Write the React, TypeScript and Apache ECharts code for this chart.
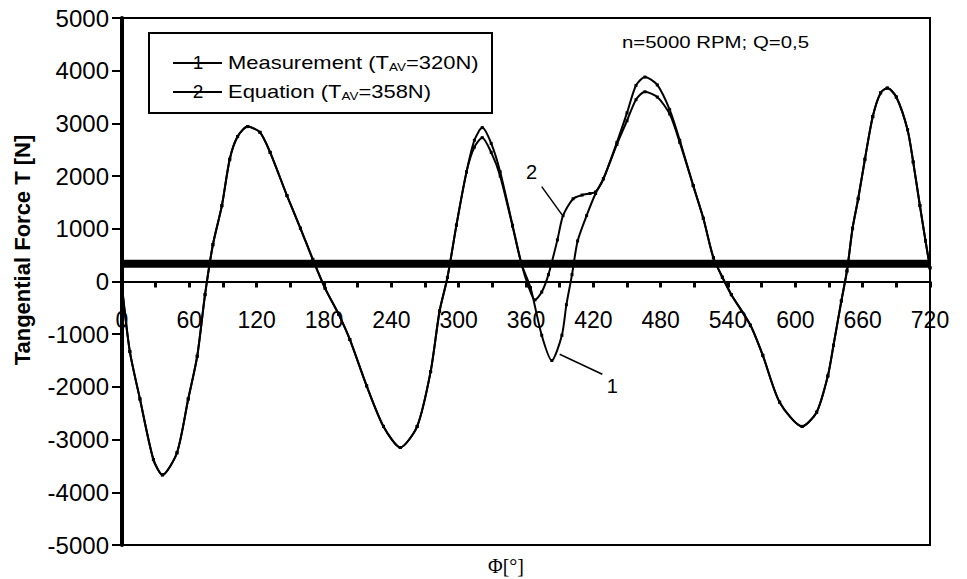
import React, { useEffect, useRef } from "react";
import * as echarts from "echarts";

// Crank angle [deg] and tangential force [N]
const measAngle = [0, 7, 16, 28, 36, 49, 59, 67, 74, 81, 89, 96, 103, 112, 123, 132, 147, 159, 170, 181, 193, 203, 218, 233, 248, 263, 275, 283, 290, 298, 307, 314, 321, 329, 337, 348, 356, 364, 374, 383, 392, 396, 401, 406, 414, 422, 429, 441, 450, 458, 466, 477, 488, 497, 509, 518, 527, 535, 543, 560, 571, 586, 606, 619, 629, 634, 641, 646, 651, 656, 662, 669, 676, 682, 690, 700, 705, 711, 716, 720];
const measForce = [-100, -1330, -2230, -3380, -3670, -3250, -2230, -1420, -250, 700, 1440, 2320, 2750, 2940, 2830, 2450, 1630, 1010, 420, -130, -620, -1100, -1980, -2750, -3150, -2750, -1710, -560, 75, 1070, 2080, 2550, 2730, 2450, 2000, 1050, 330, -115, -1020, -1500, -1020, -440, 130, 770, 1250, 1670, 1950, 2600, 3050, 3450, 3600, 3500, 3180, 2640, 1820, 1200, 450, 80, -250, -830, -1400, -2290, -2750, -2480, -1790, -1210, -370, 200, 1010, 1570, 2320, 3130, 3580, 3670, 3500, 2880, 2270, 1440, 770, 260];

const eqAngle = [0, 7, 16, 28, 36, 49, 59, 67, 74, 81, 89, 96, 103, 112, 123, 132, 147, 159, 170, 181, 193, 203, 218, 233, 248, 263, 275, 283, 290, 298, 307, 314, 321, 329, 337, 348, 356, 362, 368, 374, 380, 388, 393, 402, 410, 417, 422, 429, 441, 450, 458, 466, 477, 488, 497, 509, 518, 527, 535, 543, 560, 571, 586, 606, 619, 629, 634, 641, 646, 651, 656, 662, 669, 676, 682, 690, 700, 705, 711, 716, 720];
const eqForce = [-100, -1330, -2230, -3380, -3670, -3250, -2230, -1420, -250, 700, 1440, 2320, 2750, 2940, 2830, 2450, 1630, 1010, 420, -130, -620, -1100, -1980, -2750, -3150, -2750, -1710, -560, 75, 1070, 2080, 2680, 2920, 2620, 2080, 1070, 330, -80, -350, -200, 130, 790, 1250, 1570, 1640, 1670, 1700, 1950, 2640, 3200, 3720, 3880, 3730, 3260, 2680, 1820, 1200, 450, 80, -250, -830, -1400, -2290, -2750, -2480, -1790, -1210, -370, 200, 1010, 1570, 2320, 3130, 3580, 3670, 3500, 2880, 2270, 1440, 770, 260];

// Average tangential forces [N]: measurement, equation
const averageForce = [320, 358];
const angleRange = [0, 720];
// x tick labels (drawn on the zero line)
const xTickLabels = [0, 60, 120, 180, 240, 300, 360, 420, 480, 540, 600, 660, 720];

const FONT = "'Liberation Sans', Arial, Helvetica, sans-serif";

export default function App() {
  const ref = useRef<HTMLDivElement>(null);
  useEffect(() => {
    if (!ref.current) return;
    const chart = echarts.init(ref.current, undefined, { renderer: "svg" });
    const curveStyle = (name: string, ang: number[], val: number[]) => ({
      name,
      type: "line",
      data: ang.map((a, i) => [a, val[i]]),
      smooth: 0.25,
      showSymbol: true,
      symbol: "rect",
      symbolSize: 3,
      itemStyle: { color: "#000" },
      lineStyle: { color: "#000", width: 2 },
      z: 3,
    });
    const avgSeries = averageForce.map((v, k) => ({
      name: "avg" + k,
      type: "line",
      data: angleRange.map((a) => [a, v]),
      showSymbol: false,
      symbol: "none",
      lineStyle: { color: "#000", width: 6 },
      z: 2,
    }));
    chart.setOption({
      animation: false,
      backgroundColor: "#fff",
      grid: {
        left: 122,
        right: 37,
        top: 18,
        bottom: 34,
        show: true,
        borderColor: "#000",
        borderWidth: 2,
        backgroundColor: "transparent",
        containLabel: false,
        outerBoundsMode: "none",
      },
      xAxis: {
        type: "value",
        min: 0,
        max: 720,
        interval: 30,
        axisLine: { show: true, onZero: true, lineStyle: { color: "#000", width: 2 } },
        axisTick: { show: true, inside: false, length: 6, lineStyle: { color: "#000", width: 3 } },
        axisLabel: { show: false },
        splitLine: { show: false },
      },
      yAxis: {
        type: "value",
        min: -5000,
        max: 5000,
        interval: 1000,
        axisLine: { show: true, onZero: false, lineStyle: { color: "#000", width: 4 } },
        axisTick: { show: true, length: 10, lineStyle: { color: "#000", width: 2 } },
        axisLabel: {
          color: "#000",
          fontFamily: FONT,
          fontSize: 24,
          margin: 13,
          formatter: (v: number) => String(v),
        },
        splitLine: { show: false },
      },
      series: [
        ...avgSeries,
        curveStyle("Measurement", measAngle, measForce),
        curveStyle("Equation", eqAngle, eqForce),
      ],
    });

    const px = (a: number, v: number) => chart.convertToPixel({ gridIndex: 0 }, [a, v]) as number[];
    const l2a = px(374, 1800);
    const l2b = px(392, 1270);
    const t2 = px(365, 2070);
    const l1a = px(390, -1380);
    const l1b = px(428, -1760);
    const t1 = px(437, -1980);

    const xLabels = xTickLabels.map((v) => {
      const p = px(v, 0);
      return {
        type: "text",
        x: p[0],
        y: p[1] + 38,
        z: 5,
        style: {
          text: String(v),
          fontFamily: FONT,
          fontSize: 23,
          fill: "#000",
          align: "center",
          verticalAlign: "middle",
        },
      };
    });

    const legendText = (y: number, label: string, value: string) => ({
      type: "text",
      x: 228,
      y,
      scaleX: 1.22,
      style: {
        text: `{a|${label} (T}{s|AV}{a|=${value})}`,
        fill: "#000",
        verticalAlign: "middle",
        rich: {
          a: { fontFamily: FONT, fontSize: 18, fill: "#000" },
          s: { fontFamily: FONT, fontSize: 11, fill: "#000", padding: [8, 0, 0, 0] },
        },
      },
    });
    const legendLine = (y: number, num: string) => [
      { type: "line", shape: { x1: 173, y1: y, x2: 222, y2: y }, style: { stroke: "#000", lineWidth: 2 } },
      {
        type: "text",
        x: 198,
        y: y - 1,
        style: { text: num, fontFamily: FONT, fontSize: 19, fill: "#000", align: "center", verticalAlign: "middle" },
      },
    ];

    chart.setOption({
      graphic: [
        ...xLabels,
        {
          type: "rect",
          shape: { x: 149, y: 33, width: 343, height: 80 },
          style: { fill: "#fff", stroke: "#000", lineWidth: 2 },
          z: 10,
        },
        ...legendLine(63, "1").map((g) => ({ ...g, z: 11 })),
        ...legendLine(92, "2").map((g) => ({ ...g, z: 11 })),
        { ...legendText(63, "Measurement", "320N"), z: 11 },
        { ...legendText(92, "Equation", "358N"), z: 11 },
        {
          type: "text",
          x: 622,
          y: 42,
          scaleX: 1.2,
          style: { text: "n=5000 RPM; Q=0,5", fontFamily: FONT, fontSize: 17, fill: "#000", verticalAlign: "middle" },
        },
        {
          type: "text",
          x: 22,
          y: 250,
          rotation: Math.PI / 2,
          style: {
            text: "Tangential Force T [N]",
            fontFamily: FONT,
            fontWeight: "bold",
            fontSize: 22,
            fill: "#000",
            align: "center",
            verticalAlign: "middle",
          },
        },
        {
          type: "text",
          x: 506,
          y: 566,
          style: {
            text: "Φ[°]",
            fontFamily: "'Liberation Serif', 'Times New Roman', serif",
            fontSize: 20,
            fill: "#000",
            align: "center",
            verticalAlign: "middle",
          },
        },
        { type: "line", shape: { x1: l2a[0], y1: l2a[1], x2: l2b[0], y2: l2b[1] }, style: { stroke: "#000", lineWidth: 1.5 } },
        { type: "line", shape: { x1: l1a[0], y1: l1a[1], x2: l1b[0], y2: l1b[1] }, style: { stroke: "#000", lineWidth: 1.5 } },
        {
          type: "text",
          x: t2[0],
          y: t2[1],
          style: { text: "2", fontFamily: FONT, fontSize: 20, fill: "#000", align: "center", verticalAlign: "middle" },
        },
        {
          type: "text",
          x: t1[0],
          y: t1[1],
          style: { text: "1", fontFamily: FONT, fontSize: 20, fill: "#000", align: "center", verticalAlign: "middle" },
        },
      ],
    });

    return () => chart.dispose();
  }, []);
  return <div ref={ref} style={{ width: 967, height: 579, position: "absolute", left: 0, top: 0 }} />;
}
